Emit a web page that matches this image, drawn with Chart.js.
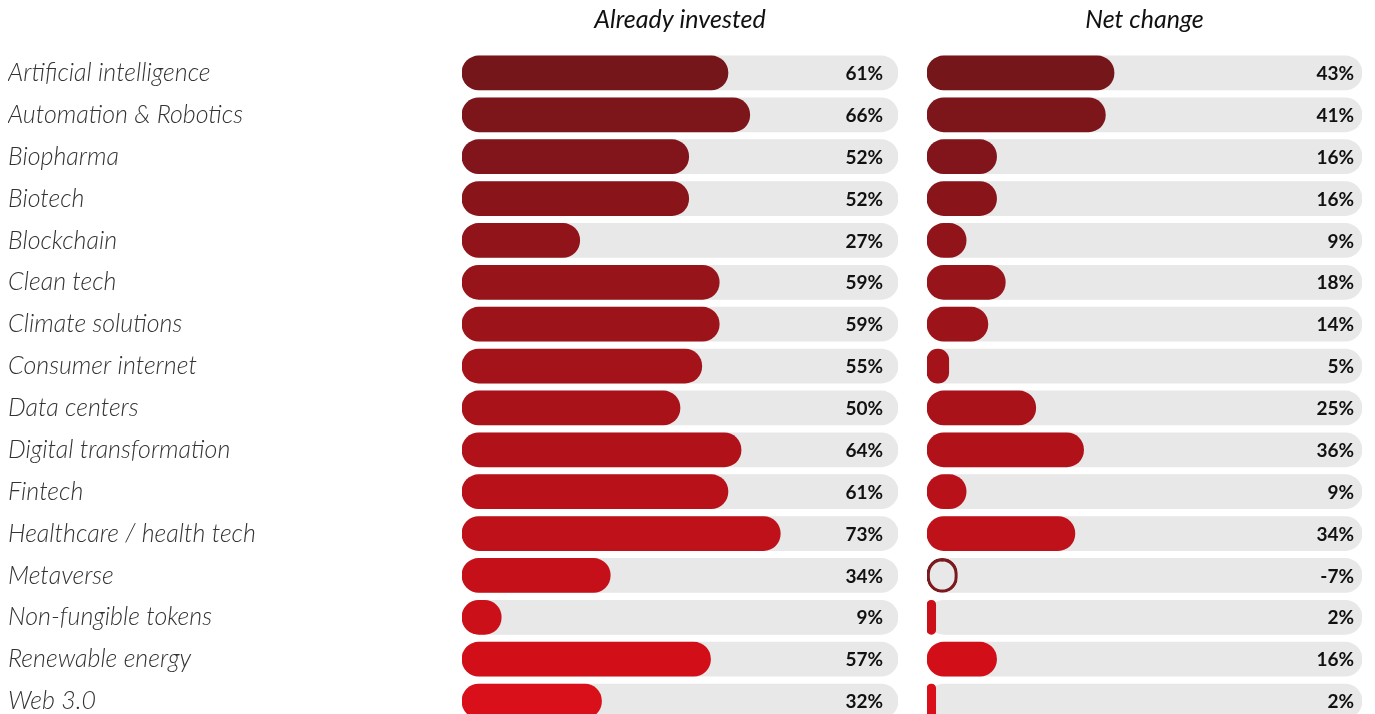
<!DOCTYPE html>
<html>
<head>
<meta charset="utf-8">
<script src="https://cdn.jsdelivr.net/npm/chart.js@4/dist/chart.umd.min.js"></script>
<style>
    html, body { margin: 0; padding: 0; background: #fff; overflow: hidden; }
    #wrap { position: relative; width: 1375px; height: 714px; overflow: hidden; }
    #wrap canvas { position: absolute; left: 0; top: 0; }
</style>
</head>
<body>
<div id="wrap">
    <canvas id="investedChart" width="1375" height="738"></canvas>
    <canvas id="changeChart" width="1375" height="738"></canvas>
</div>
<script>
// Сектора
var sectors = [
    'Artificial intelligence', 'Automation & Robotics', 'Biopharma', 'Biotech',
    'Blockchain', 'Clean tech', 'Climate solutions', 'Consumer internet',
    'Data centers', 'Digital transformation', 'Fintech', 'Healthcare / health tech',
    'Metaverse', 'Non-fungible tokens', 'Renewable energy', 'Web 3.0'
];
// Доля уже инвестировавших, %
var alreadyInvested = [61, 66, 52, 52, 27, 59, 59, 55, 50, 64, 61, 73, 34, 9, 57, 32];
// Чистое изменение, %
var netChange = [43, 41, 16, 16, 9, 18, 14, 5, 25, 36, 9, 34, -7, 2, 16, 2];
// Шкала полосы-подложки
var trackMax = [100, 100, 100, 100, 100, 100, 100, 100, 100, 100, 100, 100, 100, 100, 100, 100];

// Цвета от тёмно-бордового к красному, сверху вниз
var topColor = [117, 22, 27];
var bottomColor = [217, 15, 25];
function rowColor(i) {
    var t = i / (sectors.length - 1);
    var c = topColor.map(function (v, k) { return Math.round(v + (bottomColor[k] - v) * t); });
    return 'rgb(' + c.join(',') + ')';
}

// Подписи значений у правого края подложки
var valueLabels = {
    id: 'valueLabels',
    afterDatasetsDraw: function (chart, args, opts) {
        var ctx = chart.ctx;
        var xScale = chart.scales.x;
        var yScale = chart.scales.y;
        var values = chart.data.datasets[0].rawValues;
        ctx.save();
        ctx.font = 'bold 19px Lato';
        ctx.fillStyle = '#111';
        ctx.textAlign = 'right';
        ctx.textBaseline = 'middle';
        for (var i = 0; i < values.length; i++) {
            ctx.fillText(values[i] + '%', xScale.getPixelForValue(100) - opts.inset, yScale.getPixelForValue(i) + 1);
        }
        ctx.restore();
    }
};

function makeChart(canvasId, title, values, showLabels, padLeft, padRight, inset) {
    var ctx = document.getElementById(canvasId).getContext('2d');
    return new Chart(ctx, {
        type: 'bar',
        data: {
            labels: sectors,
            datasets: [{
                rawValues: values,
                data: values.map(function (v) { return Math.abs(v); }),
                // отрицательное значение — только контур
                backgroundColor: function (c) {
                    return values[c.dataIndex] < 0 ? 'rgba(0,0,0,0)' : rowColor(c.dataIndex);
                },
                borderColor: function (c) {
                    return values[c.dataIndex] < 0 ? '#7a1a1f' : 'rgba(0,0,0,0)';
                },
                borderWidth: function (c) {
                    return values[c.dataIndex] < 0 ? 2.5 : 0;
                },
                borderRadius: 17,
                borderSkipped: false,
                barThickness: 34,
                order: 1
            }, {
                data: trackMax,
                backgroundColor: '#e8e8e8',
                borderRadius: 17,
                borderSkipped: false,
                barThickness: 34,
                order: 2
            }]
        },
        options: {
            indexAxis: 'y',
            responsive: false,
            animation: false,
            layout: { padding: { left: padLeft, right: padRight, top: 0, bottom: 16 } },
            datasets: { bar: { grouped: false } },
            scales: {
                x: {
                    position: 'top',
                    min: 0,
                    max: 100,
                    grid: { display: false },
                    border: { display: false },
                    ticks: { display: false },
                    title: {
                        display: true,
                        text: title,
                        color: '#111',
                        font: { family: 'Lato', style: 'italic', size: 25 },
                        padding: { top: 5, bottom: 0 }
                    },
                    afterFit: function (scale) { scale.height = 52; }
                },
                y: {
                    display: showLabels,
                    grid: { display: false },
                    border: { display: false },
                    ticks: {
                        crossAlign: 'far',
                        color: '#333',
                        padding: 0,
                        font: { family: 'Lato', style: 'italic', weight: 300, size: 25 }
                    },
                    afterFit: function (scale) { if (showLabels) scale.width = 454; }
                }
            },
            plugins: {
                legend: { display: false },
                tooltip: { enabled: false },
                valueLabels: { inset: inset }
            }
        },
        plugins: [valueLabels]
    });
}

makeChart('investedChart', 'Already invested', alreadyInvested, true, 8, 477, 15);
makeChart('changeChart', 'Net change', netChange, false, 927, 13, 8);
</script>
</body>
</html>
